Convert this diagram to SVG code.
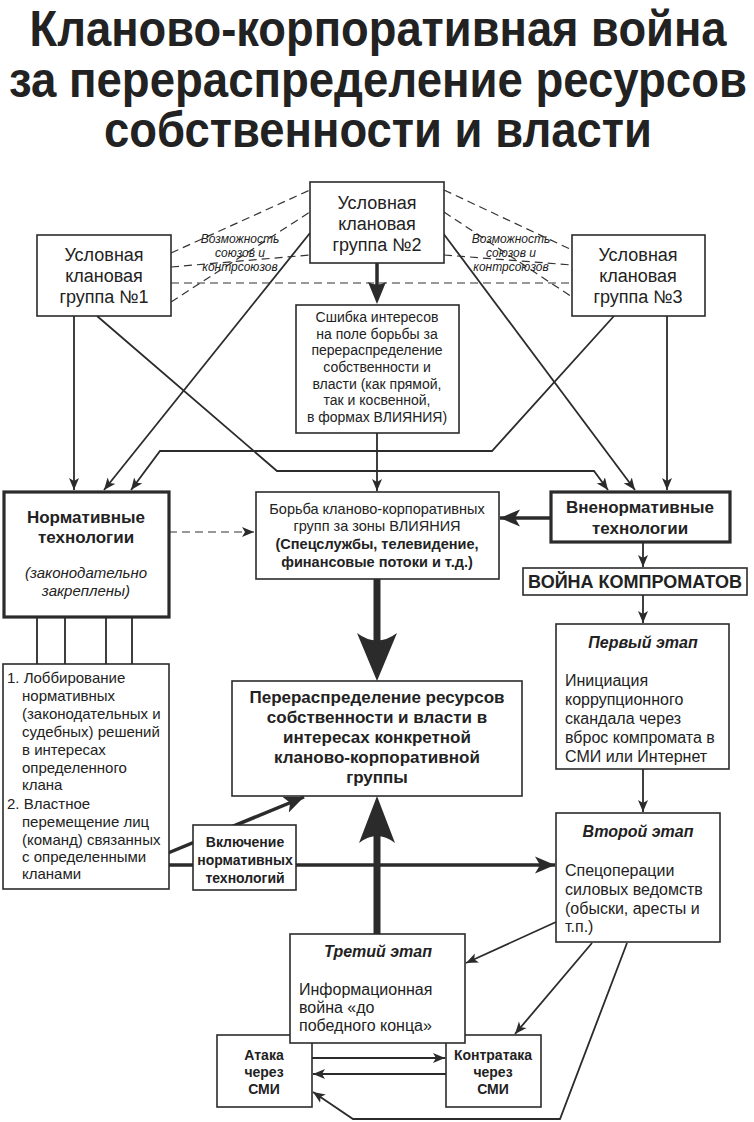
<svg xmlns="http://www.w3.org/2000/svg" width="754" height="1122" viewBox="0 0 754 1122">
<defs>
<style>
.bx{fill:#fff;stroke:#2b2b2b;stroke-width:1.6}
.bxt{fill:#fff;stroke:#2b2b2b;stroke-width:3.2}
.t{font-family:"Liberation Sans",Arial,sans-serif;fill:#222}
.c{text-anchor:middle}
.b{font-weight:bold}
.i{font-style:italic}
.ln{fill:none;stroke:#2b2b2b;stroke-width:1.8}
.thk{fill:none;stroke:#2b2b2b;stroke-width:3.5}
.sh{fill:none;stroke:#2b2b2b;stroke-width:7}
.ds{fill:none;stroke:#333;stroke-width:1.2;stroke-dasharray:8 5}
.hd{fill:#2b2b2b}
</style>
<marker id="a" markerUnits="userSpaceOnUse" markerWidth="13" markerHeight="11" refX="12" refY="5.5" orient="auto">
<path d="M0,0.5 L12,5.5 L0,10.5 L3,5.5 z" fill="#2b2b2b"/>
</marker>
<marker id="A" markerUnits="userSpaceOnUse" markerWidth="22" markerHeight="18" refX="20" refY="9" orient="auto">
<path d="M0,0.5 L20,9 L0,17.5 L5,9 z" fill="#2b2b2b"/>
</marker>
</defs>
<rect width="754" height="1122" fill="#fff"/>

<g id="title" class="t b">
<text x="378" y="46" font-size="50" class="c" textLength="697" lengthAdjust="spacingAndGlyphs">Кланово-корпоративная война</text>
<text x="378" y="97" font-size="50" class="c" textLength="738" lengthAdjust="spacingAndGlyphs">за перераспределение ресурсов</text>
<text x="378" y="147" font-size="50" class="c" textLength="548" lengthAdjust="spacingAndGlyphs">собственности и власти</text>
</g>

<g id="connectors">
<g id="dashed">
<path class="ds" d="M171,253 L310,190"/>
<path class="ds" d="M171,267 L310,255"/>
<path class="ds" d="M171,302 L310,212"/>
<path class="ds" d="M171,283 L572,283"/>
<path class="ds" d="M444,190 L572,250"/>
<path class="ds" d="M444,212 L572,297"/>
<path class="ds" d="M444,255 L572,265"/>
</g>
<path class="ln" d="M74,316 V490" marker-end="url(#a)"/>
<path class="ln" d="M310,233 L104,490" marker-end="url(#a)"/>
<path class="ln" d="M614,316 L492,451 L160,451 L131,490" marker-end="url(#a)"/>
<path class="ln" d="M97,316 L277,471 L594,471 L608,490" marker-end="url(#a)"/>
<path class="ln" d="M443,233 L635,490" marker-end="url(#a)"/>
<path class="ln" d="M667,316 V490" marker-end="url(#a)"/>
<path class="thk" d="M377,263 V286"/>
<path class="hd" d="M377,304 L368,282 Q377,287 386,282 z"/>
<path class="ln" d="M377,433 V491" marker-end="url(#a)"/>
<path class="ds" d="M169,532 L254,532" marker-end="url(#a)"/>
<path class="thk" d="M551,518 L500,518" marker-end="url(#A)"/>
<path class="sh" d="M377,579 V645"/>
<path class="hd" d="M377,681 L357,633 Q377,648 397,633 z"/>
<path class="ln" d="M643,542 V567" marker-end="url(#a)"/>
<path class="ln" d="M643,595 V623" marker-end="url(#a)"/>
<path class="ln" d="M643,769 V812" marker-end="url(#a)"/>
<path class="ln" d="M37,617 V664 M65,617 V664 M106,617 V664 M132,617 V664"/>
<path class="thk" d="M168,853 L304,797" marker-end="url(#A)"/>
<path class="thk" d="M169,865 L555,865" marker-end="url(#A)"/>
<path class="sh" d="M377,934 V830"/>
<path class="hd" d="M377,796 L359,843 Q377,829 395,843 z"/>
<path class="ln" d="M556,922 L466,963" marker-end="url(#a)"/>
<path class="ln" d="M592,943 L515,1034" marker-end="url(#a)"/>
<path class="ln" d="M627,943 L560,1119 L353,1119 L313,1092" marker-end="url(#a)"/>
<path class="ln" d="M312,1058 L445,1058" marker-end="url(#a)"/>
<path class="ln" d="M446,1074 L313,1074" marker-end="url(#a)"/>
</g>

<g id="labels" class="t i" font-size="12">
<text x="240" y="243" class="c">Возможность</text>
<text x="240" y="257" class="c">союзов и</text>
<text x="240" y="271" class="c">контрсоюзов</text>
<text x="511" y="243" class="c">Возможность</text>
<text x="511" y="257" class="c">союзов и</text>
<text x="511" y="271" class="c">контрсоюзов</text>
</g>

<g id="group1">
<rect class="bx" x="37" y="235" width="134" height="81"/>
<g class="t c" font-size="18"><text x="104" y="261">Условная</text><text x="104" y="282">клановая</text><text x="104" y="303">группа №1</text></g>
</g>
<g id="group2">
<rect class="bx" x="310" y="182" width="134" height="81"/>
<g class="t c" font-size="18"><text x="377" y="209">Условная</text><text x="377" y="230">клановая</text><text x="377" y="251">группа №2</text></g>
</g>
<g id="group3">
<rect class="bx" x="572" y="235" width="133" height="81"/>
<g class="t c" font-size="18"><text x="638" y="261">Условная</text><text x="638" y="282">клановая</text><text x="638" y="303">группа №3</text></g>
</g>

<g id="clash">
<rect class="bx" x="296" y="305" width="163" height="128"/>
<g class="t c" font-size="14">
<text x="377" y="322">Сшибка интересов</text>
<text x="377" y="339">на поле борьбы за</text>
<text x="377" y="355">перераспределение</text>
<text x="377" y="372">собственности и</text>
<text x="377" y="389">власти (как прямой,</text>
<text x="377" y="405">так и косвенной,</text>
<text x="377" y="422">в формах ВЛИЯНИЯ)</text>
</g>
</g>

<g id="normative">
<rect class="bxt" x="4" y="492" width="165" height="125"/>
<g class="t c"><text x="86" y="523" font-size="17" class="b">Нормативные</text><text x="86" y="543" font-size="17" class="b">технологии</text>
<text x="86" y="578" font-size="15" class="i">(законодательно</text><text x="86" y="596" font-size="15" class="i">закреплены)</text></g>
</g>

<g id="struggle">
<rect class="bx" x="256" y="492" width="243" height="87"/>
<g class="t c" font-size="14.5">
<text x="377" y="514">Борьба кланово-корпоративных</text>
<text x="377" y="531">групп за зоны ВЛИЯНИЯ</text>
<text x="377" y="549" class="b">(Спецслужбы, телевидение,</text>
<text x="377" y="567" class="b">финансовые потоки и т.д.)</text>
</g>
</g>

<g id="nonnormative">
<rect class="bxt" x="551" y="492" width="179" height="50"/>
<g class="t c b" font-size="17"><text x="640" y="513">Вненормативные</text><text x="640" y="534">технологии</text></g>
</g>

<g id="kompromat">
<rect class="bx" x="523" y="568" width="224" height="27"/>
<text x="635" y="588" class="t c b" font-size="18">ВОЙНА КОМПРОМАТОВ</text>
</g>

<g id="stage1">
<rect class="bx" x="556" y="624" width="173" height="145"/>
<g class="t" font-size="16">
<text x="643" y="648" class="c b i">Первый этап</text>
<text x="565" y="686">Инициация</text>
<text x="565" y="705">коррупционного</text>
<text x="565" y="724">скандала через</text>
<text x="565" y="743">вброс компромата в</text>
<text x="565" y="762">СМИ или Интернет</text>
</g>
</g>

<g id="result">
<rect class="bx" x="232" y="681" width="290" height="115"/>
<g class="t c b" font-size="17">
<text x="377" y="703">Перераспределение ресурсов</text>
<text x="377" y="723">собственности и власти в</text>
<text x="377" y="743">интересах конкретной</text>
<text x="377" y="763">кланово-корпоративной</text>
<text x="377" y="783">группы</text>
</g>
</g>

<g id="list">
<rect class="bx" x="3" y="664" width="166" height="225"/>
<g class="t" font-size="15">
<text x="7" y="683">1. Лоббирование</text>
<text x="22" y="701">нормативных</text>
<text x="22" y="719">(законодательных и</text>
<text x="22" y="737">судебных) решений</text>
<text x="22" y="755">в интересах</text>
<text x="22" y="773">определенного</text>
<text x="22" y="790">клана</text>
<text x="7" y="809">2. Властное</text>
<text x="22" y="827">перемещение лиц</text>
<text x="22" y="845">(команд) связанных</text>
<text x="22" y="862">с определенными</text>
<text x="22" y="879">кланами</text>
</g>
</g>

<g id="inclusion">
<rect class="bx" x="193" y="825" width="103" height="65"/>
<g class="t c b" font-size="14"><text x="245" y="847">Включение</text><text x="245" y="865">нормативных</text><text x="245" y="883">технологий</text></g>
</g>

<g id="stage2">
<rect class="bx" x="556" y="813" width="164" height="129"/>
<g class="t" font-size="16">
<text x="638" y="837" class="c b i">Второй этап</text>
<text x="565" y="876">Спецоперации</text>
<text x="565" y="895">силовых ведомств</text>
<text x="565" y="914">(обыски, аресты и</text>
<text x="565" y="932">т.п.)</text>
</g>
</g>

<g id="attack">
<rect class="bx" x="217" y="1035" width="95" height="72"/>
<g class="t c b" font-size="14"><text x="264" y="1060">Атака</text><text x="264" y="1077">через</text><text x="264" y="1094">СМИ</text></g>
</g>
<g id="counter">
<rect class="bx" x="446" y="1035" width="95" height="72"/>
<g class="t c b" font-size="14"><text x="493" y="1060">Контратака</text><text x="493" y="1077">через</text><text x="493" y="1094">СМИ</text></g>
</g>

<g id="stage3">
<rect class="bx" x="290" y="934" width="175" height="109"/>
<g class="t" font-size="16">
<text x="378" y="957" class="c b i">Третий этап</text>
<text x="299" y="995">Информационная</text>
<text x="299" y="1013">война «до</text>
<text x="299" y="1031">победного конца»</text>
</g>
</g>
</svg>
